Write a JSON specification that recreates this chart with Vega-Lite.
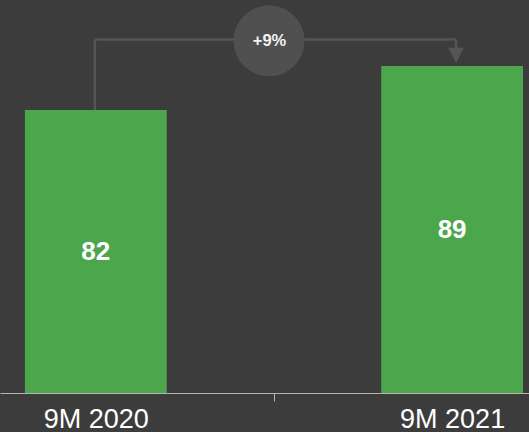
{
  "$schema": "https://vega.github.io/schema/vega-lite/v6.json",
  "width": 529,
  "height": 393,
  "autosize": {"type": "none"},
  "padding": {"left": 0, "top": 0, "right": 0, "bottom": 39},
  "background": "#3c3c3c",
  "config": {"view": {"stroke": null}, "font": "Liberation Sans"},
  "datasets": {
    "bars": [
      {"period": "9M 2020", "value": 82},
      {"period": "9M 2021", "value": 89}
    ],
    "growth": [
      {"from": "9M 2020", "to": "9M 2021", "change": "+9%"}
    ]
  },
  "resolve": {"scale": {"y": "independent"}, "axis": {"y": "independent"}},
  "layer": [
    {
      "data": {"name": "bars"},
      "transform": [{"filter": "datum.period == '9M 2020'"}],
      "mark": {"type": "rule", "color": "#555555", "strokeWidth": 2.5, "xOffset": -1},
      "encoding": {
        "x": {"field": "period", "type": "nominal"},
        "y": {"field": "value", "type": "quantitative", "scale": {"domain": [37, 99.5], "nice": false, "zero": false}, "axis": null},
        "y2": {"datum": 93.2}
      }
    },
    {
      "data": {"name": "growth"},
      "mark": {"type": "rule", "color": "#555555", "strokeWidth": 2.5, "xOffset": -1, "x2Offset": 4},
      "encoding": {
        "x": {"field": "from", "type": "nominal"},
        "x2": {"field": "to"},
        "y": {"datum": 93.2, "type": "quantitative", "scale": {"domain": [37, 99.5], "nice": false, "zero": false}, "axis": null}
      }
    },
    {
      "data": {"name": "growth"},
      "mark": {"type": "rule", "color": "#555555", "strokeWidth": 2.5, "xOffset": 4},
      "encoding": {
        "x": {"field": "to", "type": "nominal"},
        "y": {"datum": 93.2, "type": "quantitative", "scale": {"domain": [37, 99.5], "nice": false, "zero": false}, "axis": null},
        "y2": {"datum": 91.6}
      }
    },
    {
      "data": {"name": "growth"},
      "mark": {"type": "point", "shape": "M-1,-1L1,-1L0,1Z", "filled": true, "color": "#555555", "opacity": 1, "size": 240, "xOffset": 4},
      "encoding": {
        "x": {"field": "to", "type": "nominal"},
        "y": {"datum": 90.69, "type": "quantitative", "scale": {"domain": [37, 99.5], "nice": false, "zero": false}, "axis": null}
      }
    },
    {
      "data": {"name": "bars"},
      "mark": {"type": "bar", "color": "#4ca64c"},
      "encoding": {
        "x": {
          "field": "period",
          "type": "nominal",
          "sort": null,
          "scale": {"domain": ["9M 2020", "9M 2021"], "paddingInner": 0.602, "paddingOuter": 0.0434, "align": 0.806},
          "axis": {
            "title": null,
            "grid": false,
            "domainColor": "#b4b4b4",
            "domainWidth": 1,
            "tickColor": "#b4b4b4",
            "tickWidth": 1,
            "tickSize": 8,
            "tickOffset": 178.14,
            "labelOffset": -178.14,
            "labelAlign": "center",
            "labelColor": "#ffffff",
            "labelFont": "Liberation Sans",
            "labelFontSize": 27,
            "labelBaseline": "alphabetic",
            "labelPadding": 26,
            "labelAngle": 0
          }
        },
        "y": {"field": "value", "type": "quantitative", "scale": {"domain": [37, 99.5], "nice": false, "zero": false}, "axis": null},
        "y2": {"datum": 37}
      }
    },
    {
      "data": {"name": "growth"},
      "mark": {"type": "point", "shape": "circle", "filled": true, "color": "#505050", "opacity": 1, "size": 5041, "xOffset": 173.2},
      "encoding": {
        "x": {"field": "from", "type": "nominal"},
        "y": {"datum": 93.0, "type": "quantitative", "scale": {"domain": [37, 99.5], "nice": false, "zero": false}, "axis": null}
      }
    },
    {
      "data": {"name": "growth"},
      "mark": {"type": "text", "font": "Liberation Sans", "fontWeight": "bold", "fontSize": 16.5, "color": "#f2f2f2", "baseline": "middle", "align": "center", "xOffset": 173.7},
      "encoding": {
        "x": {"field": "from", "type": "nominal"},
        "y": {"datum": 93.0, "type": "quantitative", "scale": {"domain": [37, 99.5], "nice": false, "zero": false}, "axis": null},
        "text": {"field": "change"}
      }
    },
    {
      "data": {"name": "bars"},
      "mark": {"type": "text", "font": "Liberation Sans", "fontWeight": "bold", "fontSize": 26, "color": "#ffffff", "baseline": "middle", "align": "center"},
      "encoding": {
        "x": {"field": "period", "type": "nominal"},
        "y": {"field": "value", "type": "quantitative", "scale": {"domain": [37, 162], "nice": false, "zero": false}, "axis": null},
        "text": {"field": "value", "type": "quantitative"}
      }
    }
  ]
}
